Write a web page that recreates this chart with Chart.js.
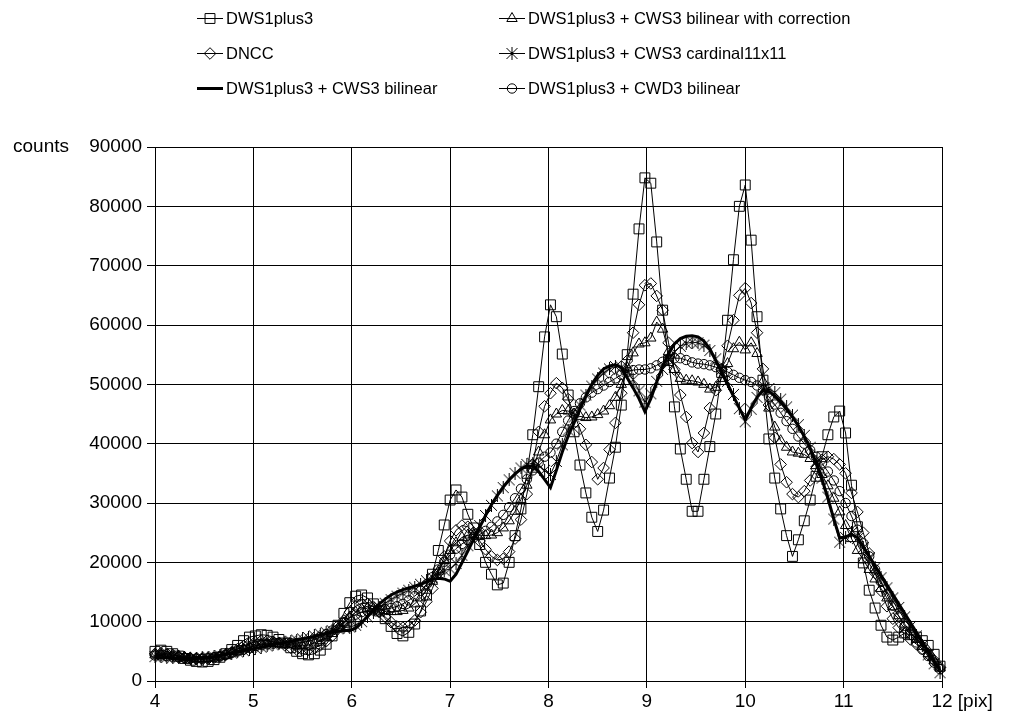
<!DOCTYPE html>
<html>
<head>
<meta charset="utf-8">
<script src="https://cdn.jsdelivr.net/npm/chart.js@4/dist/chart.umd.min.js"></script>
<style>
  html, body { margin: 0; padding: 0; background: #ffffff; }
  #wrap { position: relative; width: 1010px; height: 718px; }
</style>
</head>
<body>
<div id="wrap"><canvas id="c" width="1010" height="718"></canvas></div>
<script>
// ---------------- DATA (counts in thousands) ----------------
const xPix = [
  4,4.06,4.12,4.18,4.24,4.3,4.36,4.42,4.48,4.54,4.6,4.66,4.72,4.78,4.84,4.9,4.96,
  5.02,5.08,5.14,5.2,5.26,5.32,5.38,5.44,5.5,5.56,5.62,5.68,5.74,5.8,5.86,5.92,5.98,
  6.04,6.1,6.16,6.22,6.28,6.34,6.4,6.46,6.52,6.58,6.64,6.7,6.76,6.82,6.88,6.94,7,
  7.06,7.12,7.18,7.24,7.3,7.36,7.42,7.48,7.54,7.6,7.66,7.72,7.78,7.84,7.9,7.96,
  8.02,8.08,8.14,8.2,8.26,8.32,8.38,8.44,8.5,8.56,8.62,8.68,8.74,8.8,8.86,8.92,8.98,
  9.04,9.1,9.16,9.22,9.28,9.34,9.4,9.46,9.52,9.58,9.64,9.7,9.76,9.82,9.88,9.94,10,
  10.06,10.12,10.18,10.24,10.3,10.36,10.42,10.48,10.54,10.6,10.66,10.72,10.78,10.84,10.9,10.96,
  11.02,11.08,11.14,11.2,11.26,11.32,11.38,11.44,11.5,11.56,11.62,11.68,11.74,11.8,11.86,11.92,11.98
];

const dws1plus3 = [
  5.0,5.2,5.0,4.6,4.2,3.8,3.5,3.3,3.2,3.3,3.6,4.0,4.6,5.3,6.0,6.8,7.4,
  7.6,7.8,7.7,7.4,7.0,6.4,5.6,5.0,4.6,4.4,4.6,5.2,6.2,7.6,9.4,11.4,13.2,
  14.3,14.5,14.0,13.0,11.8,10.5,9.2,8.0,7.6,8.2,9.6,11.8,14.5,18.0,22.0,26.3,30.5,
  32.2,31.0,28.1,25.8,23.0,20.0,18.0,16.2,16.5,20.0,24.5,29.0,35.0,41.5,49.6,58.0,
  63.4,61.4,55.1,48.2,42.0,36.4,31.7,27.6,25.2,28.8,34.2,39.4,46.5,55.0,65.2,76.2,84.8,
  83.9,74.0,62.5,54.0,46.2,39.1,34.0,28.6,28.6,34.0,39.5,45.0,52.0,60.8,71.0,80.0,83.6,
  74.3,61.4,50.7,40.8,34.2,29.0,24.5,21.0,23.8,27.0,30.5,34.5,37.8,41.5,44.5,45.5,
  41.8,33.0,26.0,19.9,15.3,12.3,9.4,7.4,6.9,7.4,8.1,7.8,7.4,6.8,6.0,4.5,2.5
];

const dncc = [
  4.6,4.7,4.6,4.4,4.2,4.0,3.8,3.7,3.6,3.7,3.9,4.1,4.5,4.9,5.4,5.9,6.3,
  6.6,6.8,6.8,6.6,6.4,6.0,5.6,5.3,5.2,5.3,5.6,6.0,6.7,7.6,8.8,10.2,11.6,
  12.6,13.1,13.0,12.5,11.7,10.8,9.9,9.2,9.0,9.3,10.2,11.6,13.4,15.6,18.2,21.0,23.6,
  25.4,26.2,26.0,25.0,23.6,22.2,21.0,20.4,20.6,21.8,24.0,27.2,31.5,36.5,42.0,46.3,
  48.5,50.2,49.4,47.5,45.0,42.5,39.8,36.9,34.0,35.9,39.0,43.5,48.5,54.0,58.7,63.4,66.7,
  67.0,64.9,62.5,57.0,52.5,48.2,44.5,40.1,38.6,41.8,46.0,49.0,52.5,56.5,60.8,65.0,66.2,
  63.7,58.7,52.6,46.5,41.0,36.5,33.5,31.5,31.0,32.0,33.8,35.8,37.3,37.8,37.4,36.5,
  35.0,31.7,28.5,25.0,21.5,18.2,15.2,12.6,10.5,9.0,7.9,7.0,6.2,5.4,4.5,3.5,2.3
];

const cws3Bilinear = [
  3.9,3.9,3.9,3.8,3.8,3.8,3.8,3.8,3.9,4.0,4.1,4.3,4.5,4.7,4.9,5.1,5.3,
  5.5,5.7,5.9,6.1,6.3,6.5,6.7,6.9,7.1,7.3,7.5,7.8,8.0,8.2,8.4,8.5,8.5,
  8.9,9.8,10.9,12.0,13.0,13.8,14.5,15.0,15.4,15.7,16.0,16.3,16.7,17.1,17.3,17.2,16.8,
  18.0,19.9,21.9,23.9,25.9,27.9,29.7,31.3,32.7,33.9,34.9,35.7,36.2,36.2,35.3,34.0,
  32.6,35.5,38.6,41.3,43.5,45.8,48.0,50.0,51.5,52.6,53.1,53.3,52.8,51.1,49.4,47.6,45.4,
  47.6,50.4,53.0,55.2,56.8,57.7,58.1,58.2,58.0,57.3,56.0,54.0,52.0,50.0,48.0,46.0,44.0,
  46.0,47.8,49.0,48.8,48.0,47.0,45.8,44.5,43.0,41.2,39.2,36.8,34.0,30.8,27.3,24.1,
  24.3,24.7,24.2,22.6,21.0,19.4,17.8,16.2,14.6,13.0,11.4,9.8,8.2,6.6,5.0,3.4,1.8
];

const cws3BilinearCorr = [
  4.4,4.5,4.4,4.3,4.2,4.0,3.9,3.8,3.8,3.8,3.9,4.1,4.4,4.7,5.0,5.4,5.7,
  6.0,6.2,6.3,6.3,6.3,6.2,6.1,6.0,6.0,6.1,6.4,6.8,7.3,8.0,8.8,9.8,10.8,
  11.6,12.1,12.3,12.2,12.0,11.8,11.7,11.7,11.9,12.3,13.0,14.0,15.3,16.8,18.5,20.3,22.0,
  23.3,24.2,24.6,24.7,24.6,24.5,24.6,25.0,25.8,27.0,28.6,30.6,33.0,35.7,38.6,41.5,
  44.0,45.0,45.6,45.5,45.0,44.6,44.4,44.5,44.9,45.5,46.4,47.8,50.0,52.8,55.3,56.8,57.0,
  57.8,60.5,59.3,55.5,52.5,51.0,50.7,50.6,50.4,50.0,49.2,49.5,51.0,53.5,56.0,57.1,55.8,
  57.0,55.2,50.5,46.0,42.8,40.5,39.4,38.6,38.4,38.2,37.5,36.3,34.8,32.9,30.8,28.5,
  26.2,24.0,22.0,20.4,18.8,17.2,15.6,14.0,12.5,11.0,9.6,8.3,7.0,5.8,4.6,3.4,2.2
];

const cws3Cardinal = [
  4.1,4.1,4.0,4.0,3.9,3.9,3.8,3.8,3.9,4.0,4.1,4.3,4.5,4.7,4.9,5.1,5.3,
  5.5,5.7,5.9,6.1,6.3,6.5,6.7,6.9,7.1,7.3,7.6,7.9,8.2,8.5,8.8,9.0,9.1,
  9.4,10.0,10.8,11.6,12.4,13.1,13.7,14.3,14.8,15.3,15.8,16.3,16.9,17.5,18.1,18.6,18.9,
  19.8,21.2,22.8,24.5,26.2,27.9,29.6,31.2,32.6,33.9,35.0,35.9,36.5,36.7,36.3,35.5,
  34.8,37.0,39.8,42.3,44.5,46.5,48.2,49.7,50.9,51.9,52.6,53.0,52.9,52.2,50.8,48.9,47.0,
  48.4,50.5,52.5,54.2,55.5,56.4,56.9,57.1,57.0,56.6,55.7,54.3,52.5,50.5,48.3,45.9,43.7,
  45.8,47.8,49.2,49.3,48.6,47.5,46.2,44.8,43.2,41.4,39.4,37.0,34.2,31.0,27.3,23.4,
  24.2,25.0,24.0,22.5,20.8,19.1,17.4,15.7,14.0,12.4,10.8,9.2,7.6,6.0,4.4,2.9,1.4
];

const cwd3Bilinear = [
  4.3,4.3,4.2,4.1,4.0,3.9,3.8,3.8,3.8,3.9,4.0,4.2,4.4,4.7,5.0,5.3,5.6,
  5.9,6.1,6.2,6.3,6.4,6.4,6.4,6.4,6.5,6.7,7.0,7.4,7.9,8.5,9.2,9.9,10.6,
  11.2,11.6,11.8,11.9,12.0,12.1,12.3,12.6,13.0,13.6,14.3,15.2,16.3,17.5,18.8,20.1,21.3,
  22.3,23.1,23.7,24.2,24.7,25.3,26.0,26.9,28.0,29.3,30.8,32.4,34.0,35.5,36.8,37.8,
  38.5,40.0,42.0,43.9,45.5,46.8,47.8,48.6,49.2,49.8,50.4,51.0,51.6,52.1,52.4,52.5,52.5,
  52.7,53.2,53.8,54.2,54.4,54.4,54.1,53.7,53.5,53.4,53.2,52.9,52.5,52.1,51.6,51.1,50.7,
  50.4,49.8,49.0,47.9,46.6,45.2,43.8,42.5,41.2,40.0,38.9,37.8,36.7,35.3,33.8,32.0,
  30.0,27.8,25.5,23.2,21.0,18.8,16.7,14.6,12.7,10.9,9.3,7.8,6.5,5.3,4.2,3.1,2.0
];

const seriesNames = [
  'DWS1plus3',
  'DNCC',
  'DWS1plus3 + CWS3 bilinear',
  'DWS1plus3 + CWS3 bilinear with correction',
  'DWS1plus3 + CWS3 cardinal11x11',
  'DWS1plus3 + CWD3 bilinear'
];
const xTickValues = [4, 5, 6, 7, 8, 9, 10, 11, 12];
const yTickValues = [0, 10000, 20000, 30000, 40000, 50000, 60000, 70000, 80000, 90000];
const yUnitLabel = 'counts';
const xUnitLabel = '[pix]';

// ---------------- STYLE ----------------
const FONT = '"Liberation Sans", Arial, Helvetica, sans-serif';
const TICK_SIZE = 19;
const LEGEND_SIZE = 16.5;
const X_TICK_LEN = 7, X_TICK_PAD = 2;

function makeAsterisk(size) {
  const c = document.createElement('canvas');
  c.width = size; c.height = size;
  const g = c.getContext('2d');
  g.strokeStyle = '#000'; g.lineWidth = 1;
  const m = size / 2;
  g.beginPath();
  g.moveTo(1, 1); g.lineTo(size - 1, size - 1);
  g.moveTo(size - 1, 1); g.lineTo(1, size - 1);
  g.moveTo(m, 0); g.lineTo(m, size);
  g.stroke();
  return c;
}
const asterisk = makeAsterisk(13);

const styles = [
  { pointStyle: 'rect', radius: 7, width: 1 },
  { pointStyle: 'rectRot', radius: 5.8, width: 1 },
  { pointStyle: false, radius: 0, width: 3 },
  { pointStyle: 'triangle', radius: 6, width: 1 },
  { pointStyle: asterisk, radius: 6, width: 1 },
  { pointStyle: 'circle', radius: 4.7, width: 1 }
];
const seriesValues = [dws1plus3, dncc, cws3Bilinear, cws3BilinearCorr, cws3Cardinal, cwd3Bilinear];

const datasets = seriesValues.map((vals, k) => ({
  label: seriesNames[k],
  data: xPix.map((x, i) => ({ x: x, y: vals[i] * 1000 })),
  borderColor: '#000',
  backgroundColor: 'rgba(0,0,0,0)',
  borderWidth: styles[k].width,
  pointStyle: styles[k].pointStyle || 'circle',
  pointRadius: styles[k].radius,
  pointBorderColor: '#000',
  pointBackgroundColor: 'rgba(0,0,0,0)',
  pointBorderWidth: 1,
  tension: 0,
  fill: false,
  clip: false
}));

// legend layout: [column, row] per series
const legendCells = [[0, 0], [0, 1], [0, 2], [1, 0], [1, 1], [1, 2]];
const legendColX = [197, 499];
const legendRowY = [18, 53, 88];

const extras = {
  id: 'extras',
  afterDraw(chart) {
    const ctx = chart.ctx;
    const xs = chart.scales.x, ys = chart.scales.y;
    ctx.save();
    ctx.fillStyle = '#000';
    ctx.font = TICK_SIZE + 'px ' + FONT;
    // "counts" next to the top y label
    ctx.textAlign = 'left';
    ctx.textBaseline = 'middle';
    ctx.fillText(yUnitLabel, 13, ys.getPixelForValue(90000));
    // "[pix]" after the last x label, on the same line
    const lastVal = xTickValues[xTickValues.length - 1];
    const w12 = ctx.measureText(String(lastVal)).width;
    const labelMidY = xs.top + X_TICK_LEN + X_TICK_PAD + TICK_SIZE * 1.2 / 2;
    ctx.fillText(' ' + xUnitLabel, xs.getPixelForValue(lastVal) + w12 / 2, labelMidY);

    // legend
    ctx.font = LEGEND_SIZE + 'px ' + FONT;
    ctx.textBaseline = 'middle';
    datasets.forEach((ds, k) => {
      const [col, row] = legendCells[k];
      const x0 = legendColX[col], y0 = legendRowY[row];
      ctx.strokeStyle = '#000';
      ctx.lineWidth = styles[k].width;
      ctx.beginPath();
      ctx.moveTo(x0, y0 + 0.5); ctx.lineTo(x0 + 26, y0 + 0.5);
      ctx.stroke();
      if (styles[k].pointStyle) {
        ctx.lineWidth = 1;
        ctx.fillStyle = 'rgba(0,0,0,0)';
        Chart.helpers.drawPoint(ctx, { pointStyle: styles[k].pointStyle, radius: styles[k].radius, rotation: 0, borderWidth: 1 }, x0 + 13, y0 + 0.5);
      }
      ctx.fillStyle = '#000';
      ctx.fillText(ds.label, x0 + 29, y0 + 1);
    });
    ctx.restore();
  }
};

new Chart(document.getElementById('c'), {
  type: 'line',
  data: { datasets: datasets },
  options: {
    responsive: false,
    devicePixelRatio: 1,
    animation: false,
    layout: { padding: { top: 147, right: 68, left: 0, bottom: 0 } },
    plugins: { legend: { display: false }, tooltip: { enabled: false }, title: { display: false } },
    scales: {
      x: {
        type: 'linear', min: 4, max: 12,
        afterBuildTicks: s => { s.ticks = xTickValues.map(v => ({ value: v })); },
        afterFit: s => { s.height = 37; },
        ticks: { color: '#000', font: { family: FONT, size: TICK_SIZE }, padding: X_TICK_PAD, maxRotation: 0, callback: v => String(v) },
        grid: { color: '#000', lineWidth: 1, tickLength: X_TICK_LEN },
        border: { color: '#000', width: 1 }
      },
      y: {
        type: 'linear', min: 0, max: 90000,
        afterBuildTicks: s => { s.ticks = yTickValues.map(v => ({ value: v })); },
        afterFit: s => { s.width = 155; },
        ticks: { color: '#000', font: { family: FONT, size: TICK_SIZE }, padding: 5, callback: v => String(v) },
        grid: { color: '#000', lineWidth: 1, tickLength: 8 },
        border: { color: '#000', width: 1 }
      }
    }
  },
  plugins: [extras]
});
</script>
</body>
</html>
